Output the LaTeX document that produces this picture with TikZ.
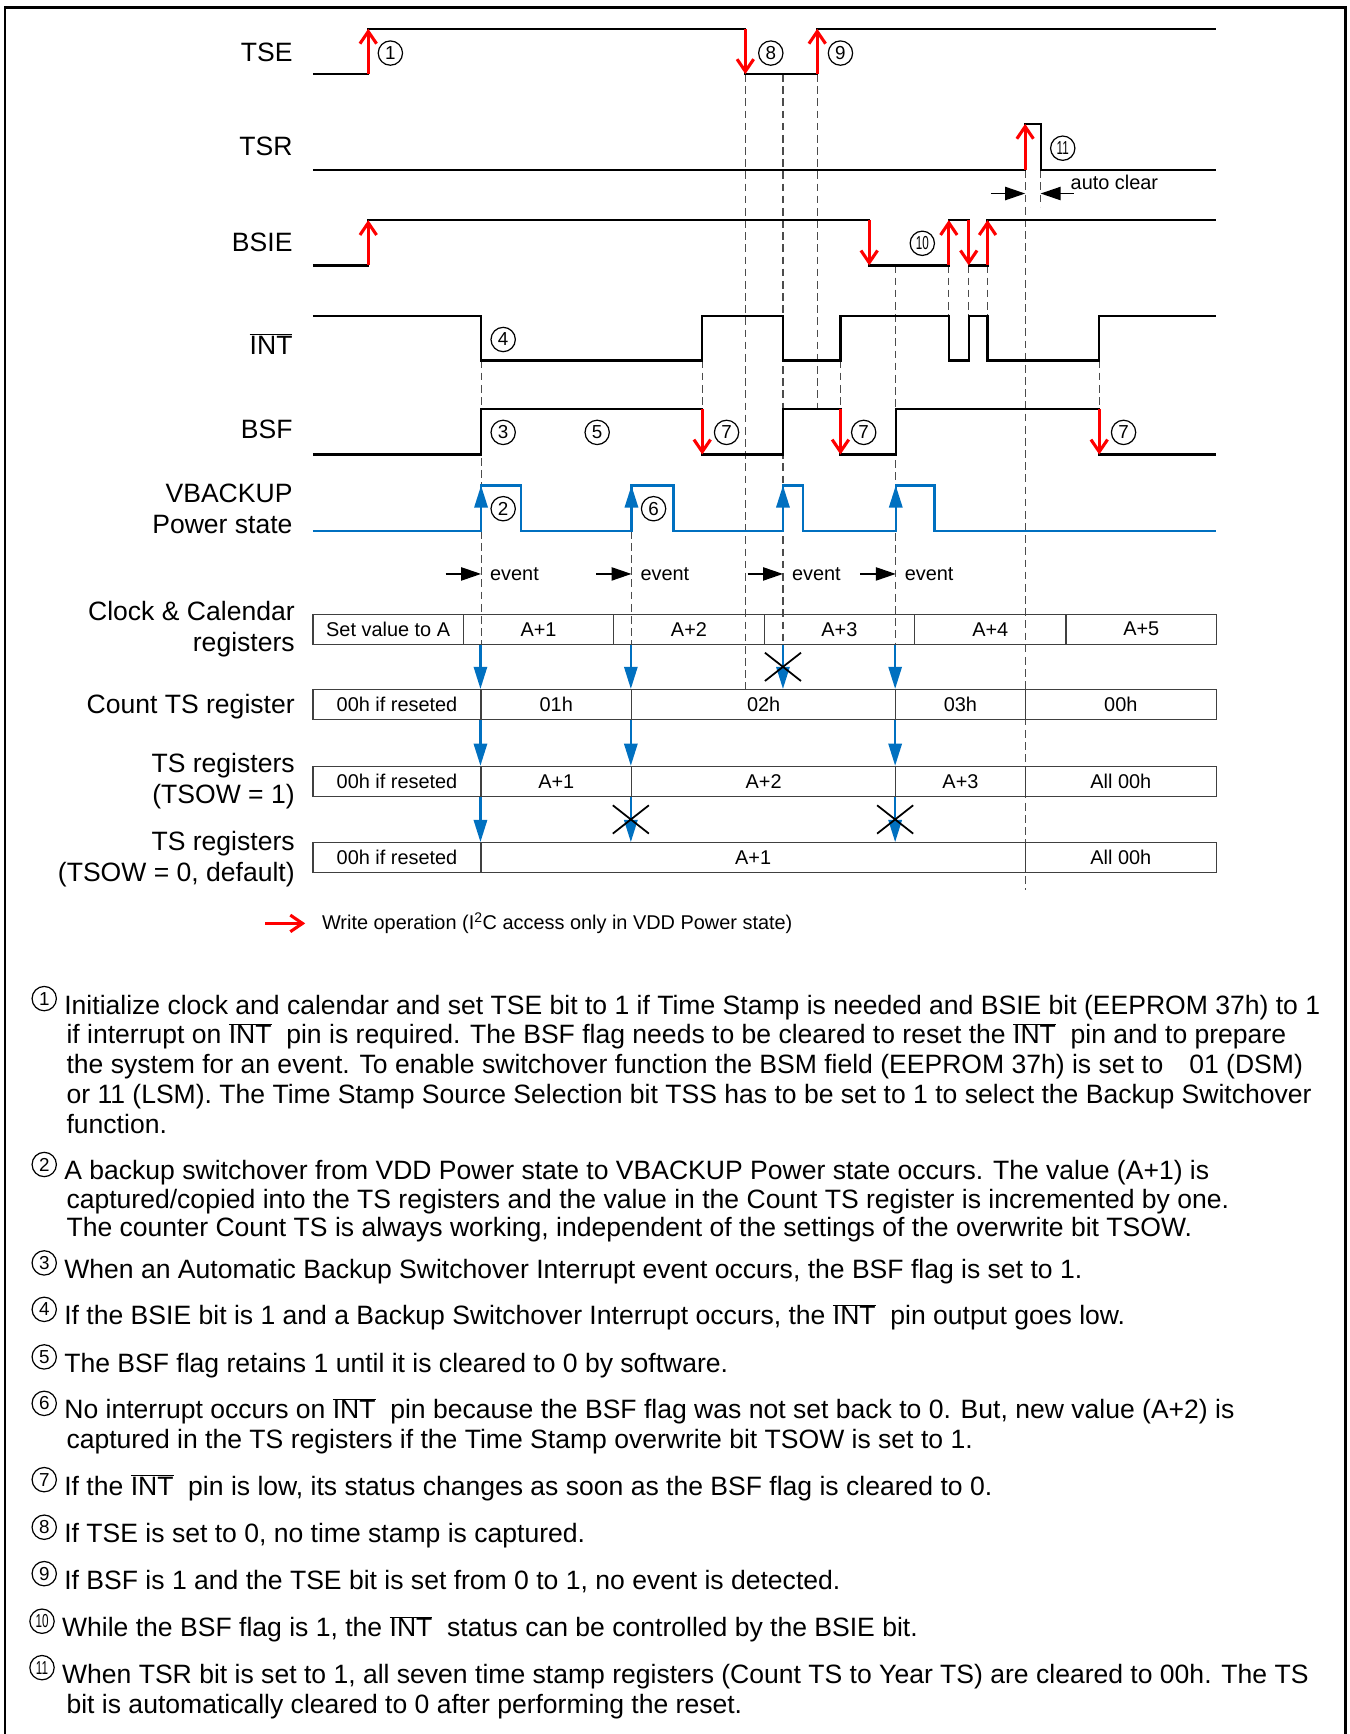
\documentclass[tikz,border=0pt]{standalone}
\usepackage{fontspec}
\setmainfont{Liberation Sans}
\usepackage{graphicx}
\usetikzlibrary{arrows.meta, positioning, shapes.misc}
\definecolor{vblue}{RGB}{0,112,192}
\definecolor{wred}{RGB}{255,0,0}
\newcommand{\ovint}{$\overline{\mbox{INT}}$}
\newcommand{\twodig}[1]{\scalebox{0.62}[1]{#1}}
\tikzset{
  wave/.style={line width=2pt, line join=miter},
  vwave/.style={line width=2.2pt, draw=vblue, line join=miter},
  wr/.style={line width=2.8pt, draw=wred, -{Straight Barb[length=11pt, width=15pt]}},
  vup/.style={line width=2.2pt, draw=vblue, -{Triangle[length=20pt, width=12pt]}},
  vdown/.style={line width=2pt, draw=vblue, -{Triangle[length=20pt, width=12pt]}},
  guide/.style={line width=1pt, draw=black!70, dash pattern=on 7pt off 4pt},
  evarr/.style={line width=1.2pt, -{Triangle[length=18pt, width=12pt]}},
  sname/.style={anchor=east, align=right, font=\fontsize{24}{28}\selectfont},
  cell/.style={draw=black!75, line width=1.1pt, minimum height=27pt, inner sep=0pt, font=\fontsize{18}{20}\selectfont},
  small/.style={anchor=west, inner sep=0pt, font=\fontsize{18}{20}\selectfont},
  cnum/.style={circle, draw=black, line width=1.1pt, inner sep=0pt, minimum size=22pt, font=\fontsize{17}{17}\selectfont},
  note/.style={anchor=base west, inner sep=0pt, font=\fontsize{24}{28}\selectfont},
  xmark/.style={cross out, draw=black, line width=1.6pt, minimum width=31pt, minimum height=24pt, inner sep=0pt},
}

\begin{document}
\begin{tikzpicture}[x=1pt, y=-1pt]
  \useasboundingbox (0,0) rectangle (1220,1568);
  % frame
  \draw[line width=2.5pt] (4.5,1600) -- (4.5,7) -- (1217,7) -- (1217,1600);

  % event instants
  \coordinate (ev1) at (435,519);
  \coordinate (ev2) at (571,519);
  \coordinate (ev3) at (708,519);
  \coordinate (ev4) at (810,519);

  % dashed guide lines
  \draw[guide] (435,326) -- (435,582);
  \draw[guide] (571,480) -- (571,582);
  \draw[guide] (635,326) -- (635,370);
  \draw[guide] (674,67) -- (674,623);
  \draw[guide] (708,67) -- (708,582);
  \draw[guide] (739,67) -- (739,370);
  \draw[guide] (760,326) -- (760,370);
  \draw[guide] (810,240) -- (810,582);
  \draw[guide] (858,240) -- (858,286);
  \draw[guide] (876,240) -- (876,286);
  \draw[guide] (893,240) -- (893,286);
  \draw[guide] (927,154) -- (927,805);
  \draw[guide] (941,154) -- (941,187);
  \draw[guide] (994,326) -- (994,370);

  % signal names
  \node[sname] (lTSE) at (268,47) {TSE};
  \node[sname] (lTSR) at (268,132) {TSR};
  \node[sname] (lBSIE) at (268,219) {BSIE};
  \node[sname] (lINT) at (268,311) {\ovint};
  \node[sname] (lBSF) at (268,388) {BSF};
  \node[sname] (lVB) at (268,460) {VBACKUP\\Power state};
  \node[sname] (lCLK) at (270,569) {Clock \& Calendar\\registers};
  \node[sname] (lCNT) at (270,639) {Count TS register};
  \node[sname] (lTSA) at (270,706) {TS registers\\(TSOW = 1)};
  \node[sname] (lTSB) at (270,777) {TS registers\\(TSOW = 0, default)};

  % waveforms
  \draw[wave] (283,67) -- (333,67) -- (333,26) -- (674,26) -- (674,67) -- (739,67) -- (739,26) -- (1100,26);
  \draw[wave] (283,154) -- (927,154) -- (927,112) -- (941,112) -- (941,154) -- (1100,154);
  \draw[wave] (283,240) -- (333,240) -- (333,199) -- (786,199) -- (786,240) -- (858,240) -- (858,199)
    -- (876,199) -- (876,240) -- (893,240) -- (893,199) -- (1100,199);
  \draw[wave] (283,286) -- (435,286) -- (435,326) -- (635,326) -- (635,286) -- (708,286) -- (708,326)
    -- (760,326) -- (760,286) -- (858,286) -- (858,326) -- (876,326) -- (876,286) -- (893,286)
    -- (893,326) -- (994,326) -- (994,286) -- (1100,286);
  \draw[wave] (283,411) -- (435,411) -- (435,370) -- (635,370) -- (635,411) -- (708,411) -- (708,370)
    -- (760,370) -- (760,411) -- (810,411) -- (810,370) -- (994,370) -- (994,411) -- (1100,411);
  \draw[vwave] (283,480) -- (435,480) -- (435,439) -- (471,439) -- (471,480) -- (571,480) -- (571,439)
    -- (609,439) -- (609,480) -- (708,480) -- (708,439) -- (726,439) -- (726,480) -- (810,480)
    -- (810,439) -- (845,439) -- (845,480) -- (1100,480);

  % write operations
  \draw[wr] (333,67) -- (333,26);
  \draw[wr] (674,26) -- (674,67);
  \draw[wr] (739,67) -- (739,26);
  \draw[wr] (927,154) -- (927,112);
  \draw[wr] (333,240) -- (333,199);
  \draw[wr] (786,199) -- (786,240);
  \draw[wr] (858,240) -- (858,199);
  \draw[wr] (876,199) -- (876,240);
  \draw[wr] (893,240) -- (893,199);
  \draw[wr] (635,370) -- (635,411);
  \draw[wr] (760,370) -- (760,411);
  \draw[wr] (994,370) -- (994,411);

  % switchover edges
  \foreach \t in {435,571,708,810}
    \draw[vup] (\t,480) -- (\t,439);

  % auto clear
  \draw[evarr] (896,175) -- (927,175);
  \draw[evarr] (971,175) -- (941,175);
  \node[small] (aclr) at (968,165) {auto clear};

  % events
  \foreach \e in {ev1,ev2,ev3,ev4} {
    \draw[evarr] ([xshift=-32pt]\e) -- (\e);
    \node[small] at ([xshift=8pt]\e) {event};
  }

  % circled marks
  \node[cnum] (c1) at (353,48) {1};
  \node[cnum] (c8) at (697,48) {8};
  \node[cnum] (c9) at (760,48) {9};
  \node[cnum] (c11) at (961,134) {\twodig{11}};
  \node[cnum] (c10) at (834,220) {\twodig{10}};
  \node[cnum] (c4) at (455,307) {4};
  \node[cnum] (c3) at (455,391) {3};
  \node[cnum] (c5) at (540,391) {5};
  \node[cnum] (c7a) at (657,391) {7};
  \node[cnum] (c7b) at (781,391) {7};
  \node[cnum] (c7c) at (1016,391) {7};
  \node[cnum] (c2) at (455,460) {2};
  \node[cnum] (c6) at (591,460) {6};

  % register rows
  \node[cell, minimum width=136pt] (clk1) at (351,569) {Set value to A};
  \node[cell, minimum width=136pt] (clk2) at (487,569) {A+1};
  \node[cell, minimum width=136pt] (clk3) at (623,569) {A+2};
  \node[cell, minimum width=136pt] (clk4) at (759,569) {A+3};
  \node[cell, minimum width=137pt] (clk5) at (895.5,569) {A+4};
  \node[cell, minimum width=136pt] (clk6) at (1032,569) {A+5};

  \node[cell, minimum width=152pt] (cnt1) at (359,637) {00h if reseted};
  \node[cell, minimum width=136pt] (cnt2) at (503,637) {01h};
  \node[cell, minimum width=239pt] (cnt3) at (690.5,637) {02h};
  \node[cell, minimum width=117pt] (cnt4) at (868.5,637) {03h};
  \node[cell, minimum width=173pt] (cnt5) at (1013.5,637) {00h};

  \node[cell, minimum width=152pt] (tsa1) at (359,706.5) {00h if reseted};
  \node[cell, minimum width=136pt] (tsa2) at (503,706.5) {A+1};
  \node[cell, minimum width=239pt] (tsa3) at (690.5,706.5) {A+2};
  \node[cell, minimum width=117pt] (tsa4) at (868.5,706.5) {A+3};
  \node[cell, minimum width=173pt] (tsa5) at (1013.5,706.5) {All 00h};

  \node[cell, minimum width=152pt] (tsb1) at (359,775.5) {00h if reseted};
  \node[cell, minimum width=492pt] (tsb2) at (681,775.5) {A+1};
  \node[cell, minimum width=173pt] (tsb3) at (1013.5,775.5) {All 00h};

  % copies into registers
  \draw[vdown] (cnt2.north west |- clk2.south) -- (cnt2.north west);
  \draw[vdown] (cnt2.south west) -- (tsa2.north west);
  \draw[vdown] (tsa2.south west) -- (tsb2.north west);
  \draw[vdown] (cnt3.north west |- clk3.south) -- (cnt3.north west);
  \draw[vdown] (cnt3.south west) -- (tsa3.north west);
  \draw[vdown] (tsa3.south west) -- (tsa3.south west |- tsb2.north) node[xmark, midway] {};
  \draw[vdown] (ev3 |- clk4.south) -- (ev3 |- cnt3.north) node[xmark, midway] {};
  \draw[vdown] (cnt4.north west |- clk4.south) -- (cnt4.north west);
  \draw[vdown] (cnt4.south west) -- (tsa4.north west);
  \draw[vdown] (tsa4.south west) -- (tsa4.south west |- tsb2.north) node[xmark, midway] {};

  % legend
  \draw[wr] (240,835) -- (276,835);
  \node[small] (leg) at (291,835) {Write operation (I\textsuperscript{2}C access only in VDD Power state)};

  % notes
  \node[cnum] (n1) at (40,903) {1};
  \node[note] at (58,917) {Initialize clock and calendar and set TSE bit to 1 if Time Stamp is needed and BSIE bit (EEPROM 37h) to 1};
  \node[note] at (60,944) {if interrupt on \ovint{}~ pin is required. The BSF flag needs to be cleared to reset the \ovint{}~ pin and to prepare};
  \node[note] at (60,971) {the system for an event. To enable switchover function the BSM field (EEPROM 37h) is set to \hspace{10pt} 01 (DSM)};
  \node[note] at (60,998) {or 11 (LSM). The Time Stamp Source Selection bit TSS has to be set to 1 to select the Backup Switchover};
  \node[note] at (60,1025) {function.};

  \node[cnum] (n2) at (40,1053) {2};
  \node[note] at (58,1067) {A backup switchover from VDD Power state to VBACKUP Power state occurs. The value (A+1) is};
  \node[note] at (60,1093) {captured/copied into the TS registers and the value in the Count TS register is incremented by one.};
  \node[note] at (60,1118) {The counter Count TS is always working, independent of the settings of the overwrite bit TSOW.};

  \node[cnum] (n3) at (40,1142) {3};
  \node[note] at (58,1156) {When an Automatic Backup Switchover Interrupt event occurs, the BSF flag is set to 1.};

  \node[cnum] (n4) at (40,1184) {4};
  \node[note] at (58,1198) {If the BSIE bit is 1 and a Backup Switchover Interrupt occurs, the \ovint{}~ pin output goes low.};

  \node[cnum] (n5) at (40,1227) {5};
  \node[note] at (58,1241) {The BSF flag retains 1 until it is cleared to 0 by software.};

  \node[cnum] (n6) at (40,1269) {6};
  \node[note] at (58,1283) {No interrupt occurs on \ovint{}~ pin because the BSF flag was not set back to 0. But, new value (A+2) is};
  \node[note] at (60,1310) {captured in the TS registers if the Time Stamp overwrite bit TSOW is set to 1.};

  \node[cnum] (n7) at (40,1338) {7};
  \node[note] at (58,1352) {If the \ovint{}~ pin is low, its status changes as soon as the BSF flag is cleared to 0.};

  \node[cnum] (n8) at (40,1381) {8};
  \node[note] at (58,1395) {If TSE is set to 0, no time stamp is captured.};

  \node[cnum] (n9) at (40,1423) {9};
  \node[note] at (58,1437) {If BSF is 1 and the TSE bit is set from 0 to 1, no event is detected.};

  \node[cnum] (n10) at (38,1466) {\twodig{10}};
  \node[note] at (56,1480) {While the BSF flag is 1, the \ovint{}~ status can be controlled by the BSIE bit.};

  \node[cnum] (n11) at (38,1508) {\twodig{11}};
  \node[note] at (56,1522) {When TSR bit is set to 1, all seven time stamp registers (Count TS to Year TS) are cleared to 00h. The TS};
  \node[note] at (60,1549) {bit is automatically cleared to 0 after performing the reset.};
\end{tikzpicture}
\end{document}
